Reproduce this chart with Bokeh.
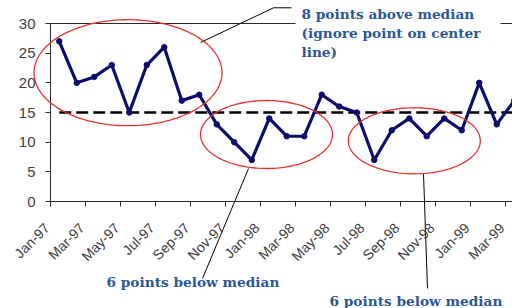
import numpy as np
from bokeh.plotting import figure
from bokeh.models import (Range1d, FixedTicker, PolyAnnotation, Label,
                          LabelSet, ColumnDataSource, CustomJSTickFormatter)
from bokeh.embed import file_html
from bokeh.resources import INLINE
from bokeh.core.properties import value

# ---------------- data ----------------
months = ["Jan-97", "Feb-97", "Mar-97", "Apr-97", "May-97", "Jun-97", "Jul-97",
          "Aug-97", "Sep-97", "Oct-97", "Nov-97", "Dec-97",
          "Jan-98", "Feb-98", "Mar-98", "Apr-98", "May-98", "Jun-98", "Jul-98",
          "Aug-98", "Sep-98", "Oct-98", "Nov-98", "Dec-98",
          "Jan-99", "Feb-99", "Mar-99"]
values = [27, 20, 21, 23, 15, 23, 26, 17, 18, 13, 10, 7,
          14, 11, 11, 18, 16, 15, 7, 12, 14, 11, 14, 12,
          20, 13, 17]
median = 15
y_ticks = [0, 5, 10, 15, 20, 25, 30]
tick_labels = months[0::2]
note_above = "8 points above median\n(ignore point on center\nline)"
note_below = "6 points below median"

# ---------------- layout (pixel positions of the reference) ----------------
W, H = 512, 308
AX_L, AX_B, PX_CAT = 50.0, 201.0, 17.5      # y axis x-pixel, x axis y-pixel
PX_UNIT = 178.0 / 30.0
FR_L, FR_T = 8, 4                            # frame left / top borders


def dx(px):
    return (px - AX_L) / PX_CAT - 0.5


def dy(py):
    return (AX_B - py) / PX_UNIT


idx = list(range(len(months)))
x_lo, x_hi = -0.5, dx(W)

p = figure(width=W, height=H, x_range=Range1d(dx(FR_L), dx(W)),
           y_range=Range1d(dy(H), dy(FR_T)), output_backend="svg",
           toolbar_location=None, x_axis_location="above",
           min_border_left=FR_L, min_border_right=0, min_border_top=FR_T,
           min_border_bottom=0)
p.grid.visible = False
p.outline_line_color = None
p.background_fill_color = "white"
p.border_fill_color = "white"

AXIS_COL = "#2a2a2a"
LBL_COL = "#404040"
blank = CustomJSTickFormatter(code="return ''")

# y axis (drawn at the first category boundary); labels drawn as text below
ya = p.yaxis[0]
ya.fixed_location = x_lo
ya.bounds = (y_ticks[0], y_ticks[-1])
ya.ticker = FixedTicker(ticks=y_ticks)
ya.formatter = blank
ya.major_label_text_font_size = "0px"
ya.major_label_standoff = 0
ya.major_tick_out = 5
ya.major_tick_in = 0
ya.minor_tick_line_color = None
ya.axis_line_color = AXIS_COL
ya.major_tick_line_color = AXIS_COL

# x axis at y = 0: tick marks at category boundaries, labels drawn separately
xa = p.xaxis[0]
xa.fixed_location = y_ticks[0]
xa.bounds = (x_lo, x_hi)
xa.ticker = FixedTicker(ticks=[i - 0.5 for i in idx[0::2]] + [idx[-1] + 0.5])
xa.formatter = blank
xa.major_label_text_font_size = "0px"
xa.major_label_standoff = 0
xa.major_tick_out = 0
xa.major_tick_in = 5
xa.minor_tick_line_color = None
xa.axis_line_color = AXIS_COL
xa.major_tick_line_color = AXIS_COL

# top border of the plot area (broken behind the note box)
top = y_ticks[-1]
p.segment(x0=[x_lo, dx(500)], y0=[top, top], x1=[dx(295), x_hi], y1=[top, top],
          line_color=AXIS_COL, line_width=1)

# y tick labels
ysrc = ColumnDataSource(dict(x=[dx(35)] * len(y_ticks), y=y_ticks,
                             text=[str(v) for v in y_ticks]))
p.add_layout(LabelSet(x="x", y="y", text="text", source=ysrc,
                      text_align="right", text_baseline="middle",
                      text_font=value("Liberation Sans"), text_font_size="15px",
                      text_color=LBL_COL))

# rotated category labels
LBL_DX, LBL_Y = dx(46.5), dy(225)
lsrc = ColumnDataSource(dict(x=[i + LBL_DX for i in idx[0::2]],
                             y=[LBL_Y] * len(tick_labels), text=tick_labels))
p.add_layout(LabelSet(x="x", y="y", text="text", source=lsrc, angle=np.pi / 4,
                      text_align="right", text_baseline="middle",
                      text_font=value("Liberation Sans"), text_font_size="14px",
                      text_color=LBL_COL))

# median line
p.line([idx[0], x_hi], [median, median], line_color="black",
       line_width=2.5, line_dash="12 5")

# series
NAVY = "#0d0d6b"
p.line(idx, values, line_color=NAVY, line_width=3.2)
p.scatter(idx, values, size=5.5, color=NAVY)

# ellipses (annotation shapes)
t = np.linspace(0, 2 * np.pi, 160)
ellipses = [((127.5, 72.2), (94.0, 53.0)),
            ((266.0, 134.0), (66.0, 34.0)),
            ((413.8, 140.3), (66.0, 33.0))]
for (cx, cy), (rx, ry) in ellipses:
    xs = [dx(cx + rx * np.cos(a)) for a in t]
    ys = [dy(cy + ry * np.sin(a)) for a in t]
    p.add_layout(PolyAnnotation(xs=xs, ys=ys, fill_color=None, fill_alpha=0,
                                line_color="#e8322e", line_alpha=1,
                                line_width=1.3))

# leader lines
leaders = [((200, 42), (273, 7.3)), ((273, 7.3), (291, 7.3)),
           ((248, 168), (202, 278)), ((423, 173), (427, 288))]
p.segment(x0=[dx(a[0]) for a, b in leaders], y0=[dy(a[1]) for a, b in leaders],
          x1=[dx(b[0]) for a, b in leaders], y1=[dy(b[1]) for a, b in leaders],
          line_color="black", line_width=1)

NOTE_COL = "#2b5797"
note_font = dict(text_font="DejaVu Serif", text_font_style="bold",
                 text_font_size="13.7px", text_color=NOTE_COL)
p.add_layout(Label(x=dx(301), y=dy(5), text=note_above, text_align="left",
                   text_baseline="top", text_line_height=1.2, **note_font))
p.add_layout(Label(x=dx(106), y=dy(281.5), text=note_below, text_align="left",
                   text_baseline="middle", **note_font))
p.add_layout(Label(x=dx(329), y=dy(300.5), text=note_below, text_align="left",
                   text_baseline="middle", **note_font))

open("out.html", "w").write(file_html(p, INLINE))
